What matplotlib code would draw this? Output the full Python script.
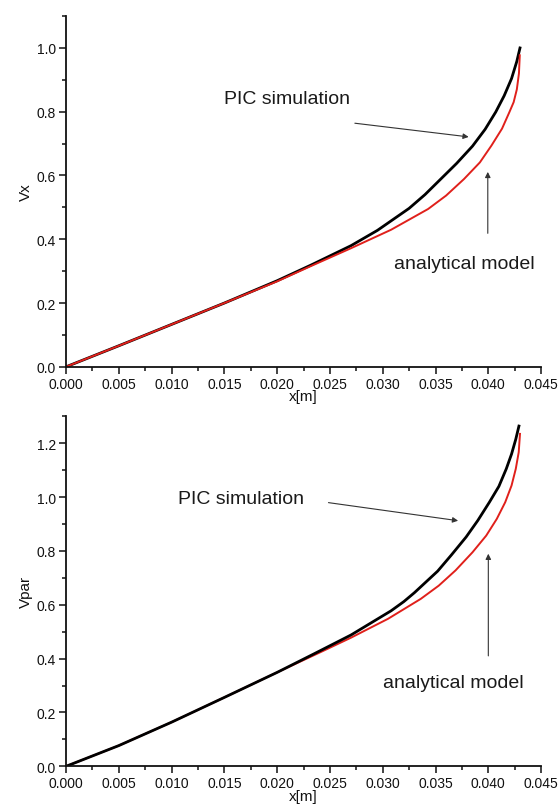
import matplotlib
matplotlib.use("Agg")
from matplotlib import pyplot as plt
from matplotlib.ticker import MultipleLocator

plt.rcParams['font.family'] = ['Liberation Sans', 'DejaVu Sans']

# top panel: Vx vs x
vx_pic_x = [0, 0.005, 0.010, 0.015, 0.020, 0.0232, 0.027, 0.0295, 0.0325, 0.0340,
            0.0355, 0.0370, 0.0385, 0.0397, 0.0407, 0.0415, 0.0422, 0.0427, 0.0430]
vx_pic_y = [0, 0.066, 0.133, 0.200, 0.270, 0.319, 0.380, 0.428, 0.497, 0.540,
            0.589, 0.638, 0.692, 0.745, 0.799, 0.850, 0.904, 0.958, 1.0]
vx_model_x = [0, 0.005, 0.010, 0.015, 0.020, 0.0232, 0.027, 0.0308, 0.0343, 0.0360,
              0.0377, 0.0392, 0.0403, 0.0413, 0.0420, 0.0424, 0.0427, 0.0429, 0.04298]
vx_model_y = [0, 0.066, 0.133, 0.200, 0.268, 0.316, 0.372, 0.430, 0.495, 0.537,
              0.589, 0.641, 0.694, 0.747, 0.799, 0.830, 0.870, 0.920, 0.977]

# bottom panel: Vpar vs x
vpar_pic_x = [0, 0.005, 0.010, 0.015, 0.020, 0.0235, 0.027, 0.0308, 0.032, 0.033,
              0.0352, 0.0365, 0.0379, 0.039, 0.0401, 0.041, 0.0417, 0.0422, 0.0426, 0.0429]
vpar_pic_y = [0, 0.077, 0.164, 0.256, 0.349, 0.418, 0.488, 0.578, 0.612, 0.645,
              0.725, 0.785, 0.852, 0.913, 0.981, 1.040, 1.105, 1.160, 1.215, 1.264]
vpar_model_x = [0, 0.005, 0.010, 0.015, 0.020, 0.0241, 0.027, 0.0305, 0.0336, 0.0353,
                0.0369, 0.0385, 0.0398, 0.0408, 0.0416, 0.0422, 0.0426, 0.04288, 0.0430]
vpar_model_y = [0, 0.077, 0.164, 0.256, 0.349, 0.424, 0.478, 0.548, 0.622, 0.671,
                0.728, 0.795, 0.857, 0.919, 0.981, 1.043, 1.105, 1.167, 1.235]

x_ticks = [0.000, 0.005, 0.010, 0.015, 0.020, 0.025, 0.030, 0.035, 0.040, 0.045]

fig = plt.figure(figsize=(5.59, 8.12), dpi=100)
ax1 = fig.add_axes([0.118, 0.547, 0.850, 0.432])
ax2 = fig.add_axes([0.118, 0.055, 0.850, 0.431])

arrow_style = dict(arrowstyle='-|>', color='#333333', lw=0.8, mutation_scale=8)


def style_axis(ax, ymax, ylabel):
    ax.set_xlim(0, 0.045)
    ax.set_ylim(0, ymax)
    ax.spines['top'].set_visible(False)
    ax.spines['right'].set_visible(False)
    ax.set_xticks(x_ticks)
    ax.set_xticklabels(['%.3f' % t for t in x_ticks])
    ax.xaxis.set_minor_locator(MultipleLocator(0.0025))
    ax.yaxis.set_major_locator(MultipleLocator(0.2))
    ax.yaxis.set_minor_locator(MultipleLocator(0.1))
    ax.tick_params(which='major', direction='out', length=5, width=1.1,
                   labelsize=10, pad=2, colors='#111111')
    ax.tick_params(which='minor', direction='out', length=3, width=1.1, colors='#111111')
    ax.set_xlabel('x[m]', fontsize=11, labelpad=-1, color='#111111')
    ax.set_ylabel(ylabel, fontsize=11, labelpad=3, color='#111111')
    for s in ax.spines.values():
        s.set_linewidth(1.3)
        s.set_color('#111111')


# top panel, red drawn over black
ax1.plot(vx_pic_x, vx_pic_y, color='black', lw=2.0)
ax1.plot(vx_model_x, vx_model_y, color='#e0201b', lw=1.4)
style_axis(ax1, 1.1, 'Vx')
ax1.text(0.0209, 0.84, 'PIC simulation', fontsize=14, ha='center', va='center', color='#1a1a1a')
ax1.annotate('', xy=(0.0384, 0.72), xytext=(0.0271, 0.765), arrowprops=arrow_style)
ax1.text(0.0377, 0.323, 'analytical model', fontsize=14, ha='center', va='center', color='#1a1a1a')
ax1.annotate('', xy=(0.03995, 0.62), xytext=(0.03995, 0.41), arrowprops=arrow_style)

# bottom panel, black drawn over red
ax2.plot(vpar_model_x, vpar_model_y, color='#e0201b', lw=1.4)
ax2.plot(vpar_pic_x, vpar_pic_y, color='black', lw=2.0)
style_axis(ax2, 1.3, 'Vpar')
ax2.text(0.0166, 0.994, 'PIC simulation', fontsize=14, ha='center', va='center', color='#1a1a1a')
ax2.annotate('', xy=(0.0374, 0.911), xytext=(0.0246, 0.981), arrowprops=arrow_style)
ax2.text(0.0367, 0.312, 'analytical model', fontsize=14, ha='center', va='center', color='#1a1a1a')
ax2.annotate('', xy=(0.0400, 0.80), xytext=(0.0400, 0.40), arrowprops=arrow_style)

fig.savefig('out.png', dpi=100)
